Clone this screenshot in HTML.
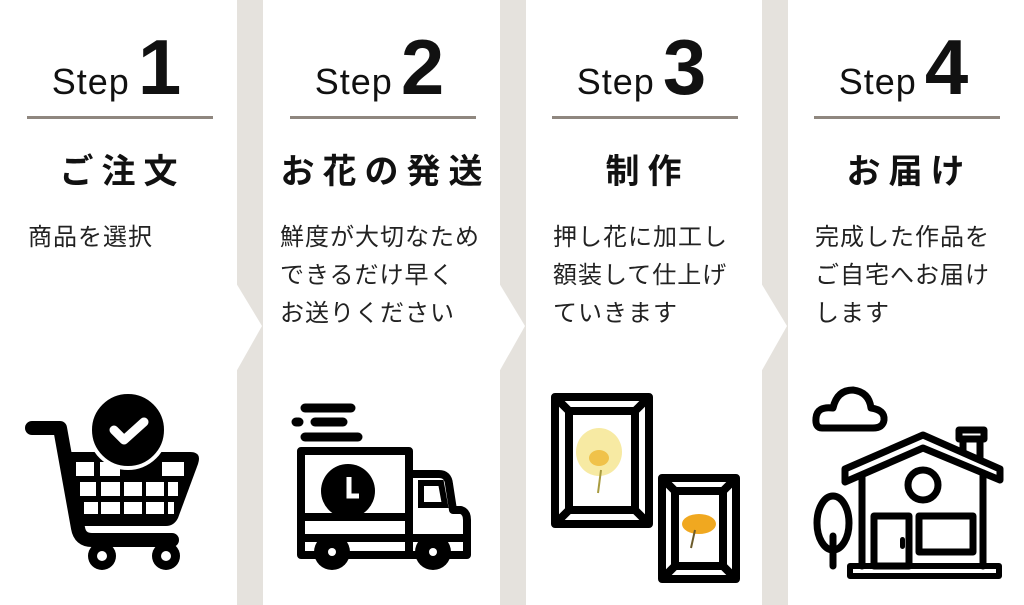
<!DOCTYPE html>
<html><head><meta charset="utf-8">
<style>
html,body{margin:0;padding:0;background:#fff;}
#c{position:relative;width:1024px;height:605px;overflow:hidden;background:#fff;font-family:"Liberation Sans","Noto Sans CJK JP",sans-serif;color:#111;}
.g{position:absolute;top:0;height:605px;width:26px;background:#e5e2dd;}
.p{position:absolute;top:0;width:237px;height:605px;}
.step{position:absolute;top:22px;left:-2px;width:237px;text-align:center;white-space:nowrap;}
.step .s{font-size:36px;font-weight:300;letter-spacing:1px;vertical-align:baseline;}
.step .n{font-size:78px;font-weight:900;font-family:"Liberation Sans",sans-serif;margin-left:8px;}
.ln{position:absolute;left:27px;top:116px;width:186px;height:3px;background:#8f877f;}
.t{position:absolute;left:0;width:237px;top:144px;text-align:center;font-size:34px;font-weight:bold;letter-spacing:8px;text-indent:8px;font-family:"Noto Sans CJK JP",sans-serif;}
.b{position:absolute;left:28px;top:216px;font-size:24px;line-height:38px;font-family:"Noto Sans CJK JP",sans-serif;font-weight:400;letter-spacing:1px;color:#222;}
svg{position:absolute;}
</style></head><body><div id="c">
<div class="g" style="left:237px"></div>
<div class="g" style="left:500px"></div>
<div class="g" style="left:762px"></div>
<svg style="left:0;top:0" width="1024" height="605">
<polygon points="236,283 262,326 236,372" fill="#fff"/>
<polygon points="499,283 525,326 499,372" fill="#fff"/>
<polygon points="761,283 787,326 761,372" fill="#fff"/>
</svg>

<div class="p" style="left:0">
<div class="step"><span class="s">Step</span><span class="n">1</span></div>
<div class="ln"></div>
<div class="t">ご注文</div>
<div class="b">商品を選択</div>
</div>
<div class="p" style="left:263px">
<div class="step"><span class="s">Step</span><span class="n">2</span></div>
<div class="ln"></div>
<div class="t">お花の発送</div>
<div class="b" style="left:17px">鮮度が大切なため<br>できるだけ早く<br>お送りください</div>
</div>
<div class="p" style="left:525px">
<div class="step"><span class="s">Step</span><span class="n">3</span></div>
<div class="ln"></div>
<div class="t">制作</div>
<div class="b">押し花に加工し<br>額装して仕上げ<br>ていきます</div>
</div>
<div class="p" style="left:787px">
<div class="step"><span class="s">Step</span><span class="n">4</span></div>
<div class="ln"></div>
<div class="t">お届け</div>
<div class="b">完成した作品を<br>ご自宅へお届け<br>します</div>
</div>

<!-- cart -->
<svg style="left:0;top:380px" width="240" height="225">
<path d="M32,48 H60 L78,148 Q80,160 92,160 H172" fill="none" stroke="#000" stroke-width="14" stroke-linecap="round" stroke-linejoin="round"/>
<path d="M70,72 H190 Q202,72 198,84 L178,138 Q174,146 166,146 H82 Z" fill="#000"/>
<g fill="#fff">
<rect x="76" y="82" width="18" height="14"/><rect x="100" y="82" width="20" height="14"/><rect x="162" y="82" width="22" height="14"/>
<rect x="80" y="102" width="16" height="14"/><rect x="101" y="102" width="19" height="14"/><rect x="124" y="102" width="18" height="14"/><rect x="146" y="102" width="18" height="14"/><rect x="168" y="102" width="10" height="14"/>
<rect x="84" y="122" width="14" height="12"/><rect x="101" y="122" width="19" height="12"/><rect x="124" y="122" width="18" height="12"/><rect x="146" y="122" width="18" height="12"/><rect x="168" y="122" width="6" height="12"/>
</g>
<circle cx="128" cy="50" r="38" fill="#000" stroke="#fff" stroke-width="4"/>
<path d="M114,50 L124,60 L144,42" fill="none" stroke="#fff" stroke-width="9" stroke-linecap="round" stroke-linejoin="round"/>
<circle cx="102" cy="176" r="14" fill="#000"/><circle cx="102" cy="176" r="5" fill="#fff"/>
<circle cx="166" cy="176" r="14" fill="#000"/><circle cx="166" cy="176" r="5" fill="#fff"/>
</svg>

<!-- truck -->
<svg style="left:263px;top:380px" width="237" height="225">
<g stroke="#000" stroke-width="9" stroke-linecap="round">
<line x1="42" y1="28" x2="88" y2="28"/><line x1="33" y1="42" x2="36" y2="42"/><line x1="52" y1="42" x2="80" y2="42"/><line x1="42" y1="57" x2="95" y2="57"/>
</g>
<g fill="none" stroke="#000" stroke-width="8" stroke-linejoin="round">
<rect x="38" y="71" width="108" height="104"/>
<path d="M146,94 H176 Q185,94 186,104 L190,130 H198 Q204,132 204,140 V175 H146"/>
<line x1="38" y1="137" x2="146" y2="137"/><line x1="38" y1="158" x2="204" y2="158"/>
</g>
<path d="M178,103 L182,125 H158 V103 Z" fill="none" stroke="#000" stroke-width="6"/>
<circle cx="85" cy="111" r="27" fill="#000"/>
<path d="M86,97 V116 H96" fill="none" stroke="#fff" stroke-width="5"/>
<circle cx="69" cy="172" r="18" fill="#000"/><circle cx="69" cy="172" r="4" fill="#fff"/>
<circle cx="170" cy="172" r="18" fill="#000"/><circle cx="170" cy="172" r="4" fill="#fff"/>
</svg>

<!-- frames -->
<svg style="left:525px;top:380px" width="237" height="225">
<g fill="none" stroke="#000" stroke-width="8" stroke-linejoin="round">
<rect x="30" y="17" width="94" height="127"/><rect x="44" y="31" width="66" height="99"/>
<path d="M30,17 L44,31 M124,17 L110,31 M30,144 L44,130 M124,144 L110,130"/>
<rect x="137" y="98" width="74" height="101"/><rect x="150" y="111" width="48" height="75"/>
<path d="M137,98 L150,111 M211,98 L198,111 M137,199 L150,186 M211,199 L198,186"/>
</g>
<ellipse cx="74" cy="72" rx="23" ry="24" fill="#f7eaa3"/><ellipse cx="74" cy="78" rx="10" ry="8" fill="#f0c24a"/>
<line x1="76" y1="90" x2="73" y2="113" stroke="#a89b40" stroke-width="2"/>
<ellipse cx="174" cy="144" rx="17" ry="10" fill="#f0a820"/>
<line x1="170" y1="150" x2="166" y2="168" stroke="#6b5a2a" stroke-width="2"/>
</svg>

<!-- house -->
<svg style="left:787px;top:380px" width="237" height="225">
<g fill="none" stroke="#000" stroke-width="7" stroke-linejoin="round" stroke-linecap="round">
<path d="M35,48 Q28,48 29,38 Q30,26 46,28 Q50,10 66,10 Q82,12 84,28 Q98,30 97,40 Q96,48 86,48 Z"/>
<path d="M172,50 H197 V59 H172 Z"/>
<path d="M176,59 V78 M193,59 V86"/>
<path d="M58,89 L136,55 L213,89 V100 L136,68 L58,102 Z" fill="#fff"/>
<path d="M75,95 V186 M196,93 V186"/>
<circle cx="136" cy="105" r="15"/>
<rect x="87" y="136" width="35" height="50"/>
<rect x="132" y="136" width="54" height="36"/>
<ellipse cx="46" cy="143" rx="16" ry="27"/><path d="M46,156 V186"/>
</g>
<rect x="63" y="186" width="149" height="10" fill="none" stroke="#000" stroke-width="6" stroke-linejoin="round"/>
<rect x="113" y="157" width="5" height="12" rx="2.5" fill="#000"/>
</svg>
</div></body></html>
